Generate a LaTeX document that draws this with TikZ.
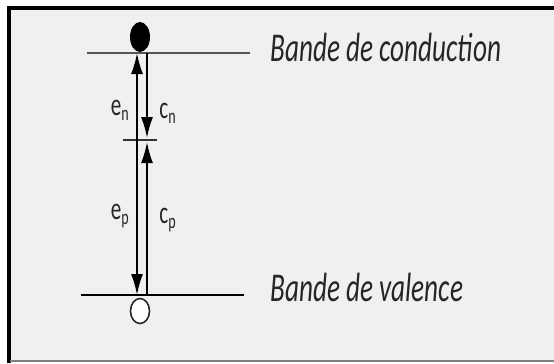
\documentclass[tikz,border=0pt]{standalone}
\usepackage{fontspec}
\setmainfont{Carlito}
\usetikzlibrary{arrows.meta,shapes.geometric}
\definecolor{fond}{HTML}{F0F0F0}
\definecolor{texte}{HTML}{262626}
\definecolor{gristrait}{HTML}{555555}
\begin{document}
\begin{tikzpicture}[x=0.02cm, y=-0.02cm, >={Latex[length=0.42cm,width=0.24cm]},
    niveau/.style={line width=1.5pt},
    fleche/.style={->, line width=1.1pt},
    bande/.style={font=\itshape\fontsize{15.5}{15.5}\selectfont, text=texte, anchor=west,
      yscale=1.5, transform shape, inner sep=0pt},
    taux/.style={font=\fontsize{12}{12}\selectfont, text=texte, yscale=1.5,
      transform shape, inner sep=0pt},
    electron/.style={ellipse, fill=black, minimum width=0.4cm, minimum height=0.6cm, inner sep=0pt},
    trou/.style={ellipse, draw=black!85, line width=0.9pt, fill=white, minimum width=0.38cm,
      minimum height=0.5cm, inner sep=0pt}]
  \useasboundingbox (0,0) rectangle (554,363);
  \fill[fond] (9,8) rectangle (554,361);
  % cadre
  \draw[line width=2.2pt] (9,363) -- (9,8) -- (554,8);
  \draw[gray, line width=1.1pt] (10,361) -- (554,361);
  % niveaux
  \draw[niveau, gristrait] (87,53) -- (250,53);
  \draw[niveau, black] (81,295) -- (244,295);
  \draw[line width=0.9pt, black!80] (123,140) -- (157,140);
  \coordinate (cbg) at (137,53);
  \coordinate (mig) at (137,140);
  \coordinate (vbg) at (137,295);
  \coordinate (cbd) at (147,53);
  \coordinate (mihd) at (147,138);
  \coordinate (mibd) at (147,142);
  \coordinate (vbd) at (147,295);
  % transitions
  \draw[fleche] (mig) -- (cbg);
  \draw[fleche] (mig) -- (vbg);
  \draw[fleche] (cbd) -- (mihd);
  \draw[fleche] (vbd) -- (mibd);
  \node[electron] (el) at (140,37) {};
  \node[trou] (tr) at (140,311) {};
  \node[taux, anchor=east] (en) at (130,110) {e\textsubscript{n}};
  \node[taux, anchor=west] (cn) at (159,113) {c\textsubscript{n}};
  \node[taux, anchor=east] (ep) at (130,216) {e\textsubscript{p}};
  \node[taux, anchor=west] (cp) at (159,220) {c\textsubscript{p}};
  \node[bande] (bc) at (270,47) {Bande de conduction};
  \node[bande] (bv) at (270,287) {Bande de valence};
\end{tikzpicture}
\end{document}
